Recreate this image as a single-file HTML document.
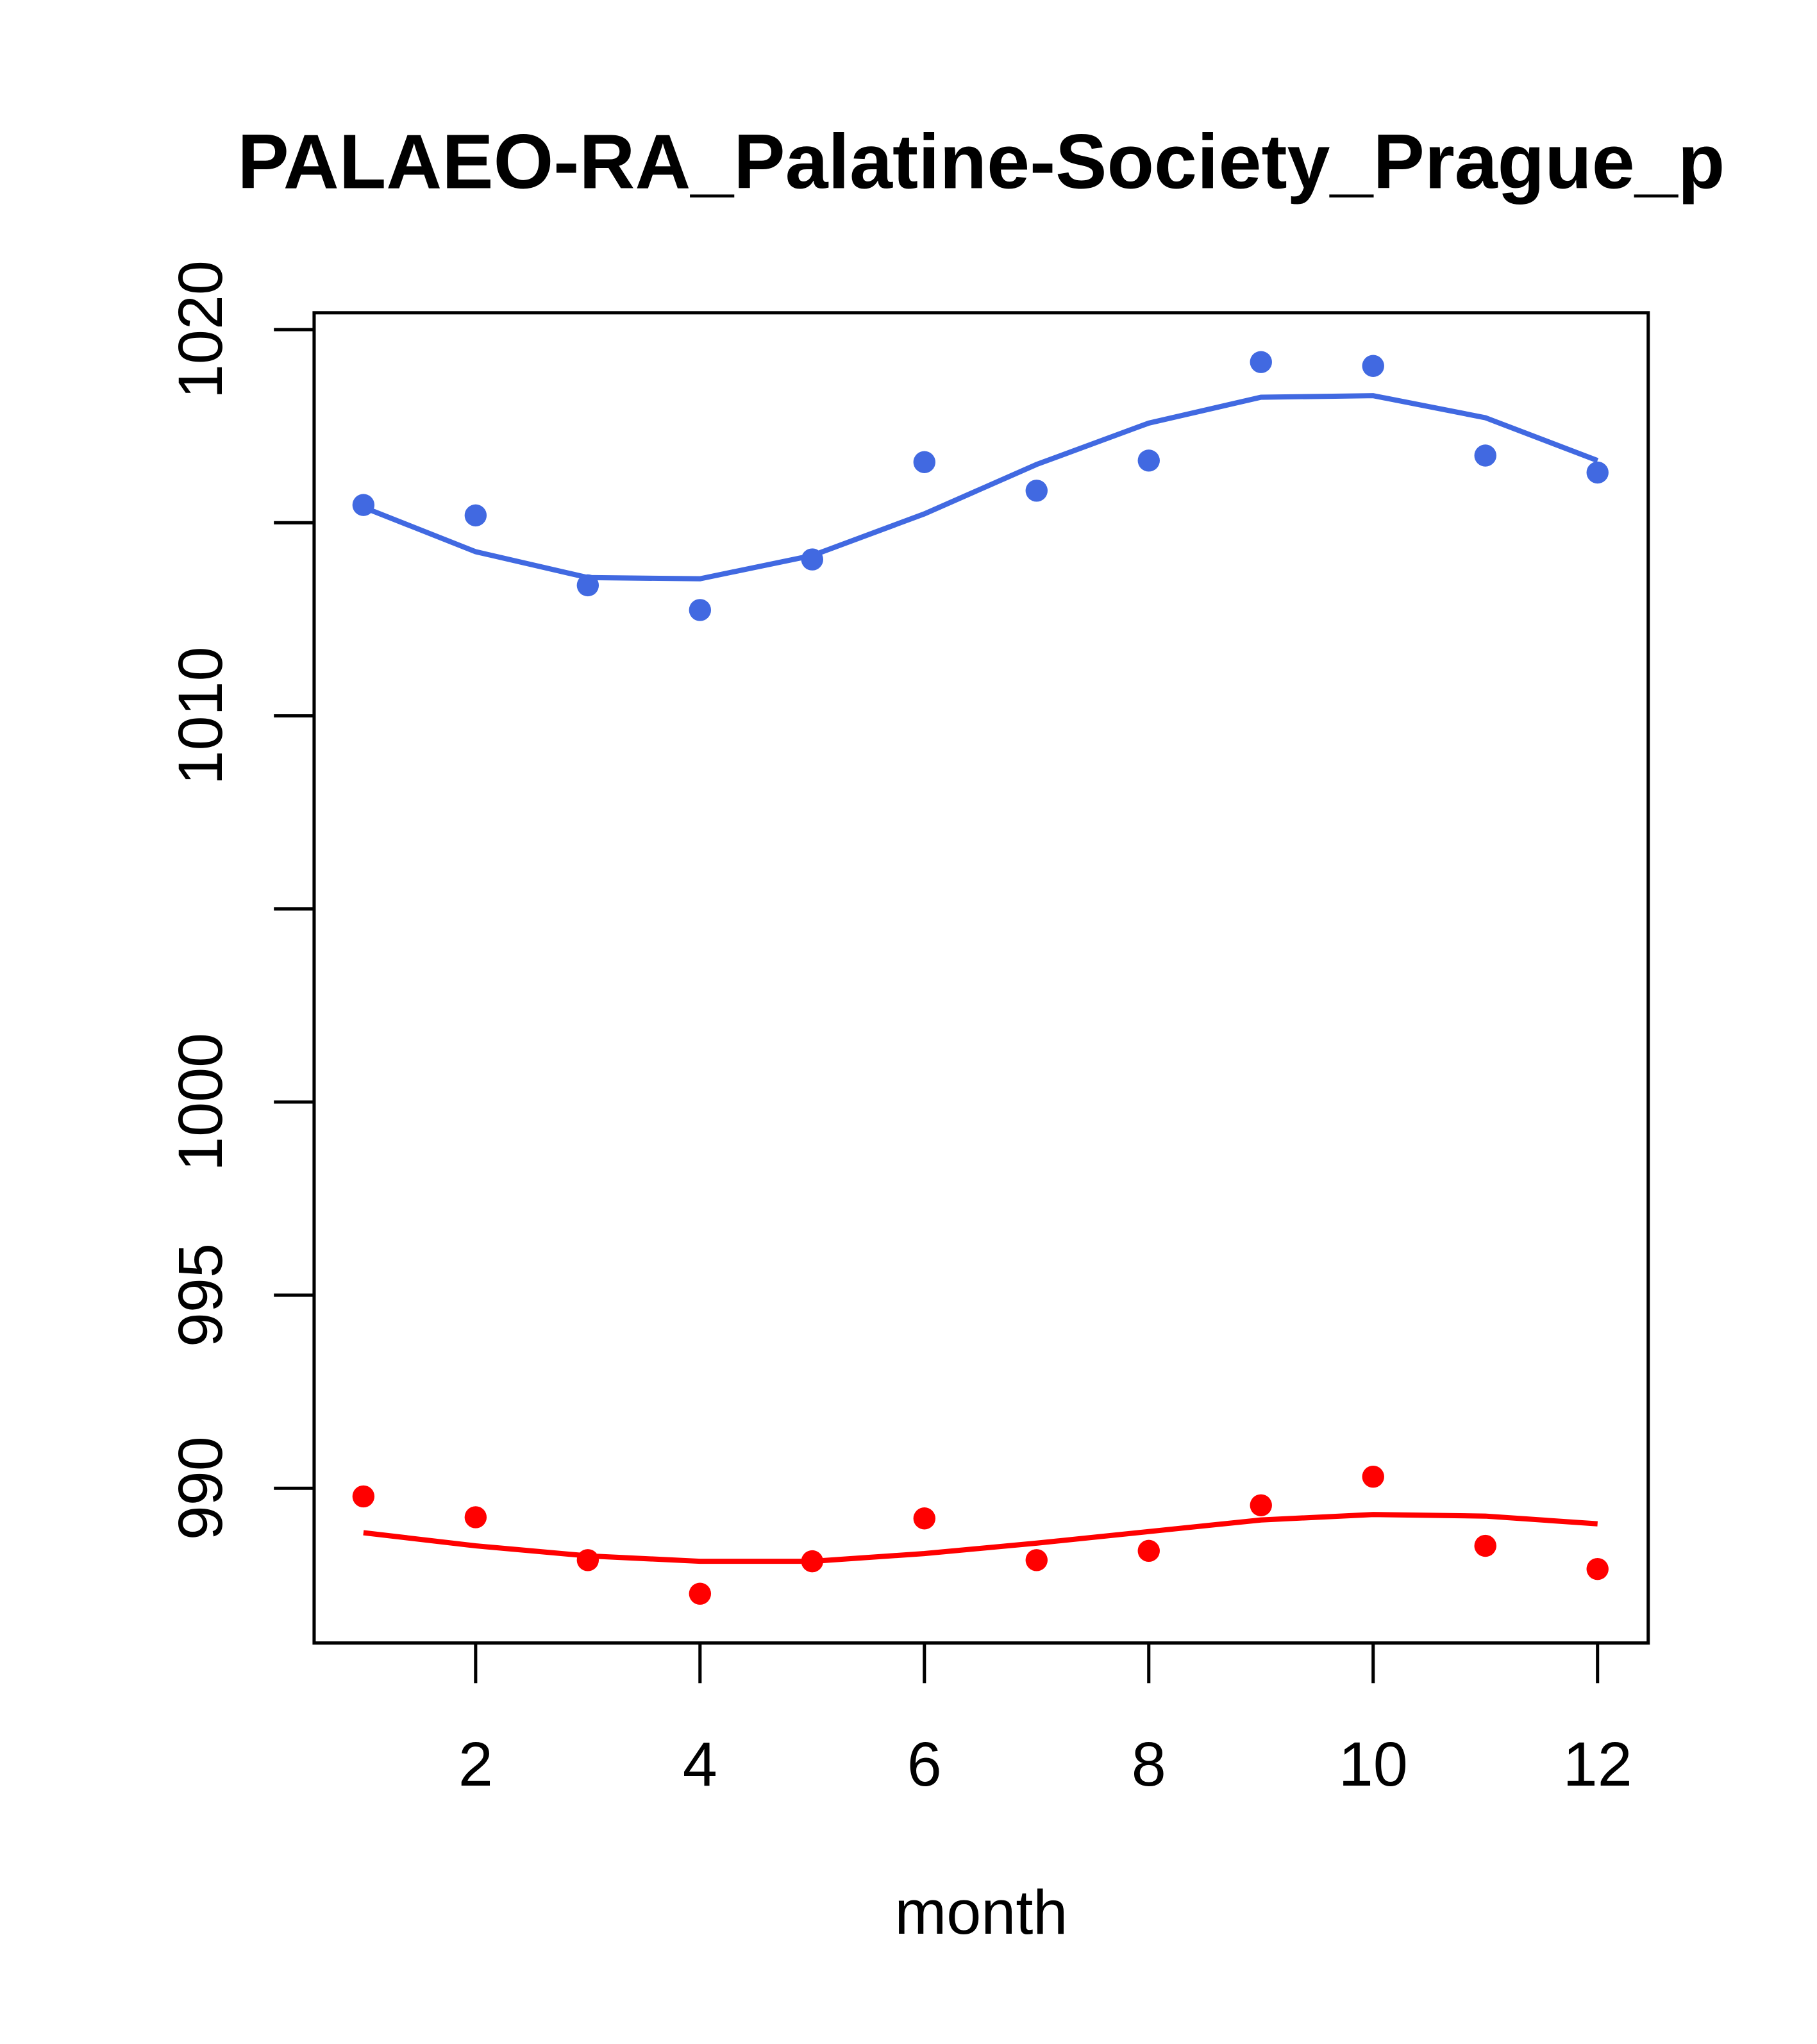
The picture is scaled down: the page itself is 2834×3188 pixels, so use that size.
<!DOCTYPE html>
<html><head><meta charset="utf-8"><style>html,body{margin:0;padding:0;background:#fff}svg{display:block}</style></head>
<body>
<svg width="2834" height="3188" viewBox="0 0 1400 1575" xmlns="http://www.w3.org/2000/svg" font-family="'Liberation Sans', sans-serif">
<rect width="1400" height="1575" fill="#fff"/>
<text x="756" y="145" text-anchor="middle" font-weight="bold" font-size="59.5">PALAEO-RA_Palatine-Society_Prague_p</text>
<rect x="242" y="241" width="1028" height="1025" fill="none" stroke="#000" stroke-width="2.5"/>
<text x="756" y="1490" text-anchor="middle" font-size="48">month</text>
<g id="axes"></g>
<g id="series"></g>
</svg>
<script>
const months=[1,2,3,4,5,6,7,8,9,10,11,12];
const bluePts=[1015.46,1015.19,1013.38,1012.74,1014.05,1016.57,1015.83,1016.61,1019.16,1019.06,1016.74,1016.30];
const blueLine=[1015.40,1014.25,1013.58,1013.55,1014.15,1015.23,1016.51,1017.58,1018.25,1018.29,1017.72,1016.61];
const redPts=[989.79,989.25,988.14,987.27,988.11,989.22,988.14,988.38,989.56,990.30,988.51,987.91];
const redLine=[988.85,988.51,988.25,988.11,988.11,988.31,988.58,988.88,989.18,989.32,989.28,989.08];
const yTicks=[990,995,1000,1005,1010,1015,1020];
const yTickLabels=["990","995","1000","","1010","","1020"];
const xTicks=[2,4,6,8,10,12];
const xTickLabels=["2","4","6","8","10","12"];
const NS="http://www.w3.org/2000/svg";
function X(m){return 280+(m-1)*86.45;}
function Y(v){return 254+(1020-v)*29.76;}
function mk(tag,attrs,parent){const e=document.createElementNS(NS,tag);for(const k in attrs)e.setAttribute(k,attrs[k]);parent.appendChild(e);return e;}
const axes=document.getElementById('axes');
yTicks.forEach((t,i)=>{
 const l=mk('line',{x1:211,x2:242,y1:Y(t),y2:Y(t),stroke:'#000','stroke-width':2.5},axes);
 
 
 if(yTickLabels[i]){
  const tx=mk('text',{x:0,y:0,'text-anchor':'middle','font-size':48,transform:`translate(171,${Y(t)}) rotate(-90)`},axes);
  tx.textContent=yTickLabels[i];
  
  
 }
});
xTicks.forEach((t,i)=>{
 const l=mk('line',{x1:X(t),x2:X(t),y1:1266,y2:1297,stroke:'#000','stroke-width':2.5},axes);
 
 
 const tx=mk('text',{x:X(t),y:1376,'text-anchor':'middle','font-size':48},axes);
 tx.textContent=xTickLabels[i];
 
 
});
const ser=document.getElementById('series');
function series(pts,line,color,name){
 const p=mk('polyline',{points:line.map((v,i)=>X(months[i])+','+Y(v)).join(' '),fill:'none',stroke:color,'stroke-width':4},ser);
 
 
 pts.forEach((v,i)=>{
  const c=mk('circle',{cx:X(months[i]),cy:Y(v),r:8.5,fill:color},ser);
  
  
 });
}
series(bluePts,blueLine,'#4169E1','blue-series');
series(redPts,redLine,'#FF0000','red-series');
</script>
</body></html>
